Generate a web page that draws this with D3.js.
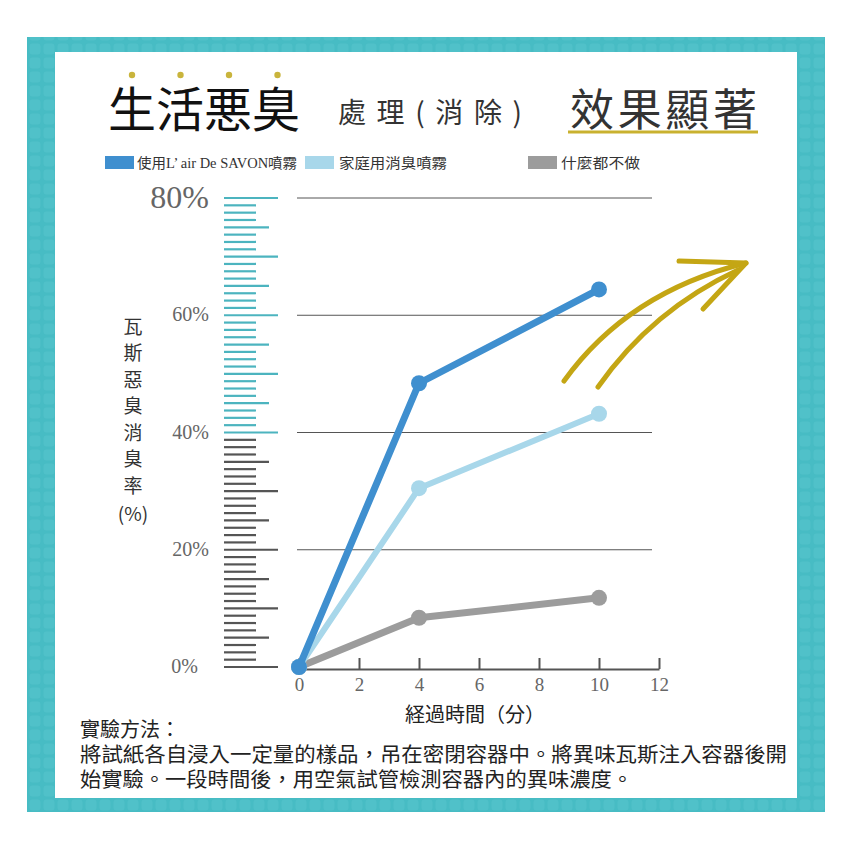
<!DOCTYPE html>
<html><head><meta charset="utf-8">
<script src="https://cdn.jsdelivr.net/npm/d3@7"></script>
<style>body{margin:0;background:#fff}</style>
</head><body><svg id="c" width="850" height="850"></svg>
<script>
// ---- data ----
const minutes = [0, 4, 10];
const seriesNames = ["使用L’ air De SAVON噴霧", "家庭用消臭噴霧", "什麼都不做"];
const savonValues = [0, 48.4, 64.4];
const householdValues = [0, 30.5, 43.2];
const nothingValues = [0, 8.4, 11.8];
const seriesColors = ["#3f8fcf", "#a8d7ea", "#9c9c9c"];
const yTicks = [0, 20, 40, 60, 80];
const yTickLabels = ["0%", "20%", "40%", "60%", "80%"];
const xTicks = [0, 2, 4, 6, 8, 10, 12];
const titleMain = "生活悪臭";
const titleMid = "處理(消除)";
const titleRight = "效果顯著";
const yTitleChars = ["瓦", "斯", "惡", "臭", "消", "臭", "率"];
const xTitle = "経過時間（分）";
const noteLines = ["實驗方法：", "將試紙各自浸入一定量的樣品，吊在密閉容器中。將異味瓦斯注入容器後開", "始實驗。一段時間後，用空氣試管檢測容器內的異味濃度。"];

const series = [
  {name: seriesNames[2], values: nothingValues, color: seriesColors[2]},
  {name: seriesNames[1], values: householdValues, color: seriesColors[1]},
  {name: seriesNames[0], values: savonValues, color: seriesColors[0]}
];

const svg = d3.select("#c");
const CJK = "'Noto Sans CJK TC','Noto Sans CJK JP',sans-serif";
const JP = "'Noto Sans CJK JP','Noto Sans CJK TC',sans-serif";
const SERIF = "'Liberation Serif','DejaVu Serif',serif";

// ---- frame ----
const defs = svg.append("defs");
const pat = defs.append("pattern").attr("id", "chk").attr("width", 14).attr("height", 14).attr("patternUnits", "userSpaceOnUse");
pat.append("rect").attr("width", 14).attr("height", 14).attr("fill", "#47bcc4");
pat.append("rect").attr("x", 1.5).attr("y", 1.5).attr("width", 11).attr("height", 11).attr("rx", 3).attr("fill", "#50c1c9");
svg.append("rect").attr("width", 850).attr("height", 850).attr("fill", "#fff");
svg.append("rect").attr("x", 27).attr("y", 37).attr("width", 798).attr("height", 775).attr("fill", "url(#chk)");
svg.append("rect").attr("x", 55).attr("y", 52).attr("width", 742).attr("height", 746).attr("fill", "#fff");

// ---- titles ----
svg.append("text").attr("x", 108).attr("y", 106).attr("dominant-baseline", "central")
  .attr("font-family", JP).attr("font-size", 48).attr("fill", "#111").text(titleMain);
titleMain.split("").forEach((c, i) => {
  svg.append("circle").attr("cx", 132 + i * 48.5).attr("cy", 75).attr("r", 3.2).attr("fill", "#c9b43c");
});
svg.append("text").attr("x", 338).attr("y", 111).attr("dominant-baseline", "central")
  .attr("font-family", CJK).attr("font-size", 28).attr("fill", "#333")
  .attr("textLength", 184).attr("lengthAdjust", "spacing").text(titleMid);
svg.append("text").attr("x", 570).attr("y", 107).attr("dominant-baseline", "central")
  .attr("font-family", CJK).attr("font-size", 44).attr("fill", "#333")
  .attr("textLength", 187).attr("lengthAdjust", "spacing").text(titleRight);
svg.append("line").attr("x1", 568).attr("x2", 758).attr("y1", 132).attr("y2", 132)
  .attr("stroke", "#c9b12f").attr("stroke-width", 3);

// ---- legend ----
const legendPos = [{rx: 105, tx: 137, tl: 160}, {rx: 305, tx: 339, tl: 108}, {rx: 528, tx: 561, tl: 79}];
[0, 1, 2].forEach(i => {
  svg.append("rect").attr("x", legendPos[i].rx).attr("y", 156).attr("width", 29).attr("height", 13).attr("fill", seriesColors[i]);
  svg.append("text").attr("x", legendPos[i].tx).attr("y", 163).attr("dominant-baseline", "central")
    .attr("font-family", "'Liberation Serif','Noto Sans CJK TC',serif").attr("font-size", 14).attr("fill", "#333")
    .attr("textLength", legendPos[i].tl).attr("lengthAdjust", "spacingAndGlyphs").text(seriesNames[i]);
});

// ---- scales ----
const x = d3.scaleLinear().domain([0, 12]).range([299, 659]);
const y = d3.scaleLinear().domain([0, 80]).range([667, 198]);

// grid lines
svg.append("g").selectAll("line").data(yTicks.filter(d => d > 0)).join("line")
  .attr("x1", 297).attr("x2", 652).attr("y1", d => y(d)).attr("y2", d => y(d))
  .attr("stroke", "#555").attr("stroke-width", 1);

// ruler
const ruler = d3.range(0, 65).map(i => i * 1.25);
svg.append("g").selectAll("line").data(ruler).join("line")
  .attr("x1", 224)
  .attr("x2", (d, i) => i % 8 === 0 ? 278 : (i % 4 === 0 ? 269 : 256))
  .attr("y1", d => y(d)).attr("y2", d => y(d))
  .attr("stroke", d => d >= 40 ? "#4cb4bf" : "#555")
  .attr("stroke-width", 2.2);

// y tick labels
svg.append("g").selectAll("text").data(yTicks).join("text")
  .attr("x", d => d === 0 ? 198 : 209)
  .attr("y", d => y(d))
  .attr("dy", "0.3em")
  .attr("text-anchor", "end")
  .attr("font-family", SERIF).attr("font-size", d => d === 80 ? 32 : 20)
  .style("font-variant-numeric", "oldstyle-nums")
  .attr("fill", "#666").text((d, i) => yTickLabels[i]);

// y title
yTitleChars.forEach((c, i) => {
  svg.append("text").attr("x", 133).attr("y", 325 + i * 26.5).attr("dominant-baseline", "central")
    .attr("text-anchor", "middle").attr("font-family", CJK).attr("font-size", 19).attr("fill", "#333").text(c);
});
svg.append("text").attr("x", 133).attr("y", 512).attr("dominant-baseline", "central")
  .attr("text-anchor", "middle").attr("font-family", CJK).attr("font-size", 19).attr("fill", "#333").text("(%)");

// x axis
const xAxis = d3.axisBottom(x).tickValues(xTicks).tickSizeInner(-11).tickSizeOuter(0).tickPadding(9);
const gx = svg.append("g").attr("transform", "translate(0,669)").call(xAxis);
gx.select(".domain").attr("stroke", "#555").attr("stroke-width", 2);
gx.selectAll(".tick line").attr("stroke", "#555").attr("stroke-width", 2);
gx.selectAll(".tick text").attr("font-family", SERIF).attr("font-size", 19).attr("fill", "#666")
  .style("font-variant-numeric", "oldstyle-nums");
svg.append("text").attr("x", 475).attr("y", 713).attr("dominant-baseline", "central").attr("text-anchor", "middle")
  .attr("font-family", JP).attr("font-size", 20).attr("fill", "#222").text(xTitle);

// ---- lines ----
const line = d3.line().x((d, i) => x(minutes[i])).y(d => y(d));
series.forEach(s => {
  svg.append("path").attr("d", line(s.values)).attr("fill", "none")
    .attr("stroke", s.color).attr("stroke-width", s.color === seriesColors[1] ? 6 : 7)
    .attr("stroke-linejoin", "round");
  svg.append("g").selectAll("circle").data(s.values).join("circle")
    .attr("cx", (d, i) => x(minutes[i])).attr("cy", d => y(d)).attr("r", 8).attr("fill", s.color);
});

// ---- arrow decoration ----
const arrow = svg.append("g").attr("fill", "none").attr("stroke", "#c4a614").attr("stroke-width", 5).attr("stroke-linecap", "round").attr("stroke-linejoin", "round");
arrow.append("path").attr("d", "M564,381 Q628,292 746,263");
arrow.append("path").attr("d", "M598,387 Q652,310 738,270");
arrow.append("path").attr("d", "M679,261 L746,263 L703,309");

// ---- notes ----
const noteY = [728, 753, 778];
const noteLen = [100, 707, 553];
noteLines.forEach((t, i) => {
  svg.append("text").attr("x", 80).attr("y", noteY[i]).attr("dominant-baseline", "central")
    .attr("font-family", CJK).attr("font-size", 20).attr("fill", "#222")
    .attr("textLength", noteLen[i]).attr("lengthAdjust", "spacingAndGlyphs").text(t);
});
</script></body></html>
